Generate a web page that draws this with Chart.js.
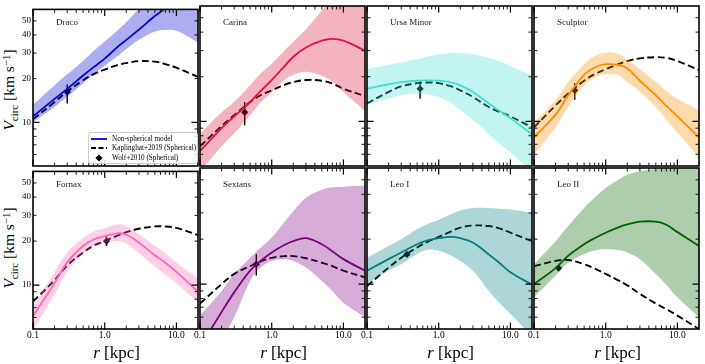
<!DOCTYPE html>
<html lang="en">
<head>
<meta charset="UTF-8">
<title>Circular velocity profiles of dwarf spheroidals</title>
<script src="https://cdn.jsdelivr.net/npm/chart.js@4"></script>
<style>
  body { margin: 0; background: #fff; }
  #fig { position: relative; width: 705px; height: 364px; font-family: 'Liberation Serif', 'DejaVu Serif', serif; color: #000; }
  #fig canvas { position: absolute; }
  .name { position: absolute; font-size: 9px; color: #222; line-height: 1; transform: translateY(-50%); white-space: nowrap; }
  .ytitle { position: absolute; left: 10px; font-size: 15.5px; line-height: 1; white-space: nowrap; transform: translate(-50%, -50%) rotate(-90deg); }
  .xtitle { position: absolute; top: 352px; font-size: 17px; line-height: 1; white-space: nowrap; transform: translate(-50%, -50%); }
  .sub { font-size: 70%; vertical-align: -0.3em; }
  .sup { font-size: 70%; vertical-align: 0.45em; }
  #legend { position: absolute; left: 88px; top: 132px; width: 108px; height: 30px; border: 1px solid #ccc; border-radius: 3px; background: rgba(255,255,255,0.85); font-size: 7.2px; }
  #legend .row { position: absolute; left: 2px; height: 9px; display: flex; align-items: center; white-space: nowrap; }
  #legend svg { width: 16px; height: 8px; margin-right: 5px; }
</style>
</head>
<body>
<div id="fig">
  <div class="ytitle" style="top:90px"><i>V</i><span class="sub">circ</span> [km s<span class="sup">−1</span>]</div>
  <div class="ytitle" style="top:248px"><i>V</i><span class="sub">circ</span> [km s<span class="sup">−1</span>]</div>
</div>
<script>
// radius grid (kpc) shared by every curve
const radius = [0.1, 0.2, 0.3, 0.5, 0.7, 1, 1.5, 2, 3, 5, 7, 10, 20];

const galaxyNames = ['Draco', 'Carina', 'Ursa Minor', 'Sculptor', 'Fornax', 'Sextans', 'Leo I', 'Leo II'];
const galaxyColors = ['#0000CD', '#DC143C', '#40E0D0', '#FF8C00', '#FF69B4', '#800080', '#008080', '#006400'];

// non-spherical model: median and band edges (km/s)
const medianV = [
  [11.0, 14.5, 17.0, 21.0, 24.0, 27.5, 33.0, 37.0, 43.5, 54.0, 61.0, 69.0, 82.0],
  [6.3, 9.0, 10.8, 13.5, 16.0, 19.0, 23.5, 27.3, 31.5, 35.0, 36.0, 35.0, 30.0],
  [16.6, 17.8, 18.4, 18.8, 18.9, 18.8, 18.3, 17.5, 15.8, 13.2, 11.8, 10.5, 8.2],
  [7.8, 11.1, 15.0, 20.6, 23.1, 24.3, 24.0, 22.8, 18.8, 15.0, 12.7, 10.8, 7.8],
  [6.15, 10.3, 14.3, 18.5, 20.5, 21.6, 22.6, 22.2, 19.5, 16.0, 14.2, 12.3, 9.0],
  [3.8, 6.5, 8.8, 12.3, 14.3, 16.3, 18.3, 19.4, 20.3, 18.5, 16.6, 14.7, 12.3],
  [12.3, 14.7, 16.3, 18.5, 19.6, 20.3, 20.7, 20.3, 19.0, 15.8, 13.9, 12.0, 9.9],
  [10.0, 12.8, 15.5, 18.5, 20.3, 22.1, 24.0, 25.1, 26.2, 26.2, 25.0, 22.3, 18.0]
];
const upperV = [
  [13.2, 18.0, 21.4, 26.5, 31.0, 36.0, 43.0, 49.0, 60.0, 70.0, 76.0, 82.0, 95.0],
  [8.2, 11.5, 13.5, 17.5, 21.0, 24.5, 30.0, 34.5, 41.7, 56.0, 66.0, 75.0, 90.0],
  [22.5, 24.0, 25.0, 26.2, 27.4, 28.3, 28.9, 29.0, 28.3, 26.8, 25.4, 23.6, 20.3],
  [9.8, 13.9, 18.4, 24.3, 27.5, 29.0, 28.5, 26.2, 22.5, 18.4, 16.0, 14.2, 11.9],
  [7.2, 12.3, 16.7, 21.0, 23.3, 24.5, 26.0, 25.3, 22.3, 18.6, 16.5, 14.2, 11.1],
  [6.15, 9.0, 11.7, 15.0, 17.5, 20.5, 26.0, 30.8, 37.8, 42.9, 44.5, 45.0, 45.8],
  [15.0, 18.0, 20.0, 23.3, 25.3, 27.0, 29.5, 31.1, 32.4, 32.4, 32.0, 31.6, 30.0],
  [13.6, 19.4, 24.5, 32.4, 38.0, 44.1, 50.0, 54.1, 57.0, 59.0, 60.5, 62.0, 64.0]
];
const lowerV = [
  [10.0, 12.8, 15.0, 18.5, 21.5, 24.5, 28.5, 32.0, 37.0, 42.3, 43.3, 42.7, 35.5],
  [4.6, 6.8, 8.3, 11.0, 13.4, 15.8, 19.0, 20.6, 21.6, 20.3, 18.5, 15.8, 11.8],
  [12.9, 14.2, 15.0, 15.4, 15.2, 14.6, 13.2, 11.9, 10.3, 8.2, 7.1, 6.2, 4.6],
  [6.0, 9.1, 12.5, 17.5, 19.8, 20.8, 20.5, 18.4, 15.8, 12.5, 10.3, 8.4, 5.7],
  [4.9, 8.6, 12.3, 16.3, 18.4, 19.4, 20.0, 19.2, 16.5, 13.4, 11.8, 10.3, 7.6],
  [2.8, 4.3, 6.0, 10.5, 12.9, 14.3, 14.7, 14.3, 12.9, 10.5, 9.0, 7.5, 6.0],
  [10.0, 12.3, 13.6, 15.9, 17.0, 16.7, 15.5, 14.3, 12.3, 9.0, 7.5, 6.3, 4.5],
  [8.15, 11.4, 13.9, 15.9, 16.8, 17.1, 16.9, 16.3, 14.7, 11.7, 9.9, 8.15, 6.0]
];

// Kaplinghat+2019 spherical fits (km/s)
const kaplinghatV = [
  [10.5, 13.8, 16.3, 19.5, 21.5, 23.1, 24.8, 25.6, 26.4, 26.2, 25.2, 23.8, 20.6],
  [6.8, 9.3, 11.0, 13.5, 15.0, 16.2, 17.6, 18.4, 19.0, 18.8, 18.0, 16.6, 14.8],
  [13.2, 15.8, 17.2, 18.1, 18.3, 18.1, 17.2, 16.2, 14.6, 12.5, 11.6, 10.8, 9.1],
  [9.1, 12.8, 15.4, 18.8, 20.8, 22.5, 24.3, 25.5, 26.6, 27.1, 26.8, 25.5, 22.2],
  [7.7, 10.8, 13.6, 16.7, 18.6, 20.0, 21.8, 23.0, 24.3, 25.2, 25.2, 24.6, 22.0],
  [7.4, 10.0, 11.7, 13.2, 14.2, 15.0, 15.4, 15.4, 14.9, 13.9, 13.2, 12.3, 11.1],
  [9.7, 12.9, 15.0, 17.6, 19.2, 20.7, 22.6, 23.9, 24.7, 24.5, 23.6, 22.1, 19.4],
  [13.2, 14.3, 14.5, 13.6, 12.7, 11.7, 10.6, 9.8, 8.6, 7.4, 6.8, 6.15, 5.0]
];

// Wolf+2010 half-light estimates
const wolfR = [0.3, 0.42, 0.55, 0.37, 1.06, 0.61, 0.36, 0.22];
const wolfV = [16.2, 11.5, 16.6, 16.2, 20.0, 13.6, 15.8, 12.8];
const wolfLo = [13.5, 9.4, 14.2, 14.0, 18.5, 11.4, 15.2, 12.3];
const wolfHi = [18.2, 13.5, 18.8, 18.1, 21.6, 15.9, 16.4, 13.3];

const xTickValues = [0.1, 1, 10];
const xTickLabels = ['0.1', '1.0', '10.0'];
const xMinorTicks = [0.2, 0.3, 0.4, 0.5, 0.6, 0.7, 0.8, 0.9, 2, 3, 4, 5, 6, 7, 8, 9];
const yTickValues = [10, 20, 30, 40, 50];
const yTickLabels = ['10', '20', '30', '40', '50'];
const yMajorTicks = [10];
const yMinorTicks = [6, 7, 8, 9, 20, 30, 40, 50];

// layout
const panelLeft = [33, 200, 367, 534];
const panelTop = [4, 166];
const panelH = [162, 163];
const PANEL_W = 167, PAD_L = 34, PAD_B = 24, PAD_T = 2, PAD_R = 2;
const FONT = "'Liberation Serif', 'DejaVu Serif', serif";

function rgba(hex, a) {
  const n = parseInt(hex.slice(1), 16);
  return `rgba(${n >> 16},${(n >> 8) & 255},${n & 255},${a})`;
}
const curve = vals => radius.map((r, i) => ({ x: r, y: vals[i] }));

const inwardTicks = {
  id: 'inwardTicks',
  afterDraw(chart) {
    const { ctx, chartArea: a, scales: { x, y } } = chart;
    ctx.save();
    ctx.strokeStyle = '#000';
    ctx.beginPath();
    const xt = (v, len) => {
      const p = x.getPixelForValue(v);
      ctx.moveTo(p, a.bottom); ctx.lineTo(p, a.bottom - len);
      ctx.moveTo(p, a.top); ctx.lineTo(p, a.top + len);
    };
    const yt = (v, len) => {
      const p = y.getPixelForValue(v);
      ctx.moveTo(a.left, p); ctx.lineTo(a.left + len, p);
      ctx.moveTo(a.right, p); ctx.lineTo(a.right - len, p);
    };
    ctx.lineWidth = 0.9;
    xMinorTicks.forEach(v => xt(v, 3.5));
    yMinorTicks.forEach(v => yt(v, 3.5));
    ctx.stroke();
    ctx.beginPath();
    ctx.lineWidth = 1.2;
    xTickValues.forEach(v => xt(v, 6.5));
    yMajorTicks.forEach(v => yt(v, 6.5));
    ctx.stroke();
    ctx.lineWidth = 1.6;
    ctx.strokeRect(a.left, a.top, a.right - a.left, a.bottom - a.top);
    ctx.restore();
  }
};

const fig = document.getElementById('fig');

galaxyNames.forEach((name, g) => {
  const col = g % 4, row = Math.floor(g / 4);
  const canvas = document.createElement('canvas');
  canvas.width = PAD_L + PANEL_W + PAD_R;
  canvas.height = PAD_T + panelH[row] + PAD_B;
  canvas.style.left = (panelLeft[col] - PAD_L) + 'px';
  canvas.style.top = (panelTop[row] - PAD_T) + 'px';
  fig.appendChild(canvas);

  const label = document.createElement('div');
  label.className = 'name';
  label.textContent = name;
  label.style.left = (panelLeft[col] + 23) + 'px';
  label.style.top = (panelTop[row] + 18) + 'px';
  fig.appendChild(label);

  if (row === 1) {
    const xt = document.createElement('div');
    xt.className = 'xtitle';
    xt.innerHTML = '<i>r</i> [kpc]';
    xt.style.left = (panelLeft[col] + PANEL_W / 2) + 'px';
    fig.appendChild(xt);
  }

  const color = galaxyColors[g];
  new Chart(canvas, {
    type: 'line',
    data: {
      datasets: [
        { data: curve(lowerV[g]), borderWidth: 0, borderColor: 'rgba(0,0,0,0)', pointRadius: 0, fill: false, clip: 0 },
        { data: curve(upperV[g]), borderWidth: 0, borderColor: 'rgba(0,0,0,0)', pointRadius: 0, fill: '-1', backgroundColor: rgba(color, 0.32), clip: 0 },
        { data: curve(medianV[g]), borderColor: color, borderWidth: 1.8, pointRadius: 0, fill: false, clip: 0 },
        { data: curve(kaplinghatV[g]), borderColor: '#000', borderWidth: 1.9, borderDash: [7, 3.5], pointRadius: 0, fill: false, clip: 0 },
        { data: [{ x: wolfR[g], y: wolfLo[g] }, { x: wolfR[g], y: wolfHi[g] }], borderColor: '#000', borderWidth: 1.4,
          pointRadius: 0, fill: false, tension: 0 },
        { data: [{ x: wolfR[g], y: wolfV[g] }], showLine: false, pointStyle: 'rectRot', pointRadius: 3.6,
          backgroundColor: '#000', borderColor: '#000', borderWidth: 0 }
      ]
    },
    options: {
      responsive: false,
      animation: false,
      events: [],
      layout: { padding: { top: PAD_T, right: PAD_R, left: 0, bottom: 0 } },
      plugins: { legend: { display: false }, tooltip: { enabled: false } },
      elements: { line: { tension: 0.38 } },
      scales: {
        x: {
          type: 'logarithmic', min: 0.1, max: 20,
          grid: { display: false, drawTicks: false }, border: { display: false },
          afterBuildTicks: s => { s.ticks = xTickValues.map(v => ({ value: v })); },
          afterFit: s => { s.height = PAD_B; },
          ticks: { display: row === 1, autoSkip: false, maxRotation: 0, padding: 1, color: '#000',
                   font: { family: FONT, size: 9.5 }, callback: (v, i) => xTickLabels[i] }
        },
        y: {
          type: 'logarithmic', min: 5, max: 60,
          grid: { display: false, drawTicks: false }, border: { display: false },
          afterBuildTicks: s => { s.ticks = yTickValues.map(v => ({ value: v })); },
          afterFit: s => { s.width = PAD_L; },
          ticks: { display: col === 0, autoSkip: false, padding: 2, color: '#000',
                   font: { family: FONT, size: 9 }, callback: (v, i) => yTickLabels[i] }
        }
      }
    },
    plugins: [inwardTicks]
  });
});

// legend in the Draco panel
const legend = document.createElement('div');
legend.id = 'legend';
legend.innerHTML =
  '<div class="row" style="top:1px"><svg viewBox="0 0 16 8"><line x1="0" y1="4" x2="16" y2="4" stroke="#0000CD" stroke-width="1.8"/></svg>Non-spherical model</div>' +
  '<div class="row" style="top:10.5px"><svg viewBox="0 0 16 8"><line x1="0" y1="4" x2="16" y2="4" stroke="#000" stroke-width="1.9" stroke-dasharray="5,2.5"/></svg>Kaplinghat+2019 (Spherical)</div>' +
  '<div class="row" style="top:20.5px"><svg viewBox="0 0 16 8"><polygon points="8,0.4 11.6,4 8,7.6 4.4,4" fill="#000"/></svg>Wolf+2010 (Spherical)</div>';
fig.appendChild(legend);
</script>
</body>
</html>
